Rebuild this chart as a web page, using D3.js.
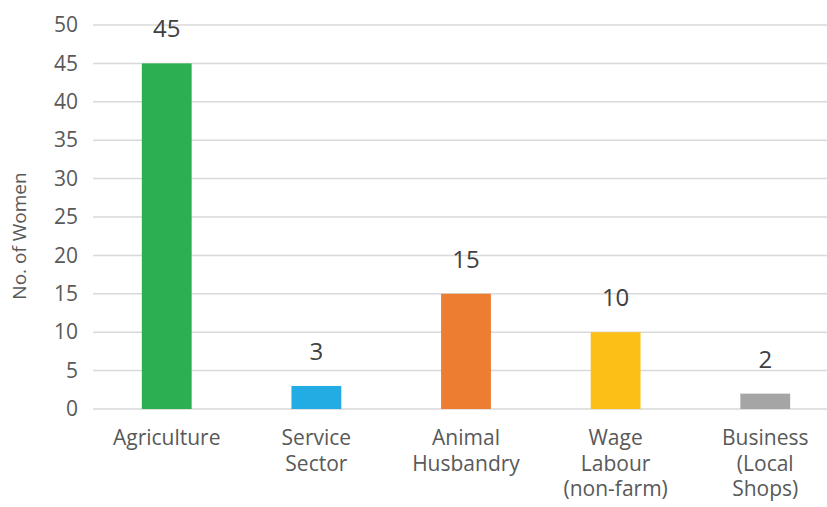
<!DOCTYPE html>
<html>
<head>
<meta charset="utf-8">
<script src="https://cdn.jsdelivr.net/npm/d3@7"></script>
<style>
  body { margin: 0; background: #fff; }
  svg { display: block; font-family: "Open Sans", sans-serif; }
</style>
</head>
<body>
<div id="chart"></div>
<script>
// dados do gráfico
var categorias = [
  ["Agriculture"],
  ["Service", "Sector"],
  ["Animal", "Husbandry"],
  ["Wage", "Labour", "(non-farm)"],
  ["Business", "(Local", "Shops)"]
];
var valores = [45, 3, 15, 10, 2];
var cores = ["#2AB052", "#22ACE3", "#ED7D31", "#FBBF16", "#A5A5A5"];
var ticksY = [0, 5, 10, 15, 20, 25, 30, 35, 40, 45, 50];

var width = 827, height = 507;

var svg = d3.select('#chart').append('svg')
  .attr('width', width)
  .attr('height', height);

var x = d3.scaleBand()
  .domain(d3.range(valores.length))
  .range([92, 840])
  .paddingInner(0.667)
  .paddingOuter(0.333);

var y = d3.scaleLinear()
  .domain([0, 50])
  .range([409, 25]);

// linhas de grelha
svg.append('g')
  .selectAll('line')
  .data(ticksY)
  .enter()
  .append('line')
  .attr('x1', 93)
  .attr('x2', width)
  .attr('y1', d => y(d))
  .attr('y2', d => y(d))
  .attr('stroke', '#D9D9D9')
  .attr('stroke-width', 1.5);

// eixo y (só texto)
var eixoY = svg.append('g')
  .attr('transform', 'translate(78,0)')
  .call(d3.axisLeft(y).tickValues(ticksY).tickSize(0).tickPadding(0));
eixoY.select('.domain').remove();
eixoY.selectAll('text')
  .attr('fill', '#595959')
  .style('font-size', '21px')
  .style('font-family', '"Open Sans", sans-serif');

// barras
svg.append('g')
  .selectAll('rect')
  .data(valores)
  .enter()
  .append('rect')
  .attr('x', (d, i) => x(i))
  .attr('y', d => y(d))
  .attr('width', x.bandwidth())
  .attr('height', d => y(0) - y(d))
  .attr('fill', (d, i) => cores[i]);

// rótulos dos valores
svg.append('g')
  .selectAll('text')
  .data(valores)
  .enter()
  .append('text')
  .attr('x', (d, i) => x(i) + x.bandwidth() / 2)
  .attr('y', d => y(d) - 26)
  .attr('text-anchor', 'middle')
  .attr('fill', '#404040')
  .style('font-size', '24px')
  .text(d => d);

// rótulos das categorias
var cat = svg.append('g')
  .selectAll('text')
  .data(categorias)
  .enter()
  .append('text')
  .attr('x', (d, i) => x(i) + x.bandwidth() / 2)
  .attr('y', 445)
  .attr('text-anchor', 'middle')
  .attr('fill', '#595959')
  .style('font-size', '21px');

cat.selectAll('tspan')
  .data((d, i) => d.map(t => ({ t: t, i: i })))
  .enter()
  .append('tspan')
  .attr('x', d => x(d.i) + x.bandwidth() / 2)
  .attr('dy', (d, j) => j == 0 ? 0 : 25.5)
  .text(d => d.t);

// título do eixo y
svg.append('text')
  .attr('transform', 'translate(26,' + 236 + ') rotate(-90)')
  .attr('text-anchor', 'middle')
  .attr('fill', '#595959')
  .style('font-size', '19px')
  .text('No. of Women');
</script>
</body>
</html>
